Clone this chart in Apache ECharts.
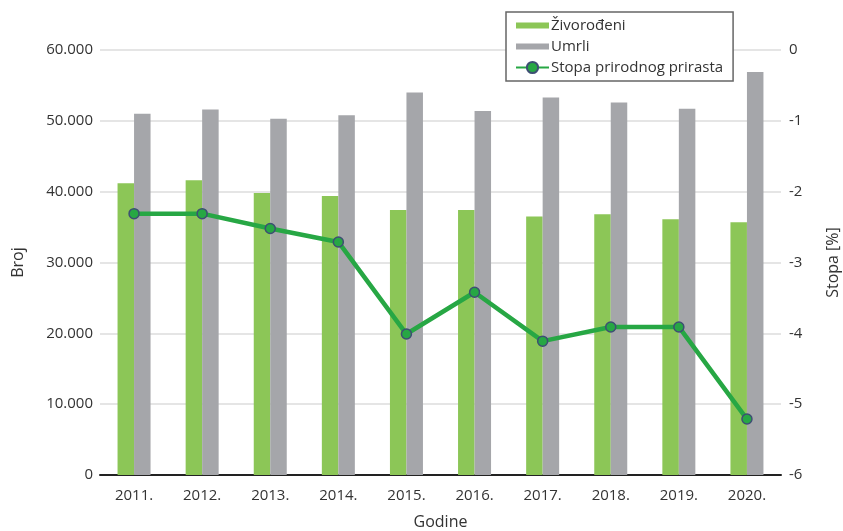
<!DOCTYPE html>
<html><head><meta charset="utf-8">
<script src="https://cdn.jsdelivr.net/npm/echarts@6/dist/echarts.min.js"></script>
<style>html,body{margin:0;padding:0;background:#fff}#c{width:843px;height:531px}</style>
</head><body><div id="c"></div>
<script>
const years = ['2011.','2012.','2013.','2014.','2015.','2016.','2017.','2018.','2019.','2020.'];
const zivorodeni = [41200, 41600, 39800, 39400, 37400, 37400, 36500, 36800, 36100, 35700];
const umrli = [51000, 51600, 50300, 50800, 54000, 51400, 53300, 52600, 51700, 56900];
const stopa = [-2.31, -2.31, -2.52, -2.71, -4.01, -3.42, -4.11, -3.91, -3.91, -5.21];
const leftTicks = [0, 10000, 20000, 30000, 40000, 50000, 60000];
const rightTicks = [-6, -5, -4, -3, -2, -1, 0];

const FONT = '"Open Sans", "Noto Sans", sans-serif';
const fmt = v => v === 0 ? '0' : String(v).replace(/\B(?=(\d{3})+(?!\d))/g, '.');

const chart = echarts.init(document.getElementById('c'), null, {renderer: 'canvas'});
chart.setOption({
  animation: false,
  textStyle: {fontFamily: FONT},
  grid: {left: 100, right: 62, top: 50, bottom: 56, containLabel: false, outerBoundsMode: 'none'},
  legend: {
    orient: 'vertical', left: 506, top: 12,
    backgroundColor: '#fff', borderColor: '#666', borderWidth: 1.5,
    padding: [6, 10, 6, 9], itemGap: 6, itemWidth: 33, itemHeight: 14,
    textStyle: {fontFamily: FONT, fontSize: 15, color: '#333', padding: [0, 0, 0, -3]},
    data: [
      {name: 'Živorođeni', icon: 'path://M0,0 M0,4 L33,4 L33,10 L0,10 Z M33,14'},
      {name: 'Umrli', icon: 'path://M0,0 M0,4 L33,4 L33,10 L0,10 Z M33,14'},
      {name: 'Stopa prirodnog prirasta'}
    ]
  },
  xAxis: {
    type: 'category', data: years,
    name: 'Godine', nameLocation: 'middle', nameGap: 39,
    nameTextStyle: {fontSize: 16, color: '#333', fontFamily: FONT},
    axisLine: {lineStyle: {color: '#222', width: 2}},
    axisTick: {show: false},
    axisLabel: {fontSize: 15, color: '#333', margin: 13, fontFamily: FONT}
  },
  yAxis: [
    {
      type: 'value', min: leftTicks[0], max: leftTicks[leftTicks.length - 1], interval: 10000,
      name: 'Broj', nameLocation: 'middle', nameGap: 74, nameRotate: 90,
      nameTextStyle: {fontSize: 16, color: '#333', fontFamily: FONT},
      axisLine: {show: false}, axisTick: {show: false},
      axisLabel: {fontSize: 15, color: '#333', margin: 7, formatter: fmt, fontFamily: FONT},
      splitLine: {lineStyle: {color: '#dcdcdc', width: 1.5}}
    },
    {
      type: 'value', min: rightTicks[0], max: rightTicks[rightTicks.length - 1], interval: 1,
      name: 'Stopa [%]', nameLocation: 'middle', nameGap: 44, nameRotate: 90,
      nameTextStyle: {fontSize: 16, color: '#333', fontFamily: FONT},
      axisLine: {show: false}, axisTick: {show: false},
      axisLabel: {fontSize: 15, color: '#333', margin: 8, fontFamily: FONT},
      splitLine: {show: false}
    }
  ],
  series: [
    {
      name: 'Živorođeni', type: 'bar', data: zivorodeni, yAxisIndex: 0,
      barWidth: 16.5, barGap: '0%',
      itemStyle: {color: '#8cc657'}
    },
    {
      name: 'Umrli', type: 'bar', data: umrli, yAxisIndex: 0,
      barWidth: 16.5, barGap: '0%',
      itemStyle: {color: '#a5a6aa'}
    },
    {
      name: 'Stopa prirodnog prirasta', type: 'line', data: stopa, yAxisIndex: 1,
      symbol: 'circle', symbolSize: 10,
      lineStyle: {color: '#27a744', width: 4.5},
      itemStyle: {color: '#27a744', borderColor: '#3d4f73', borderWidth: 1.5},
      z: 5
    }
  ]
});
</script></body></html>
